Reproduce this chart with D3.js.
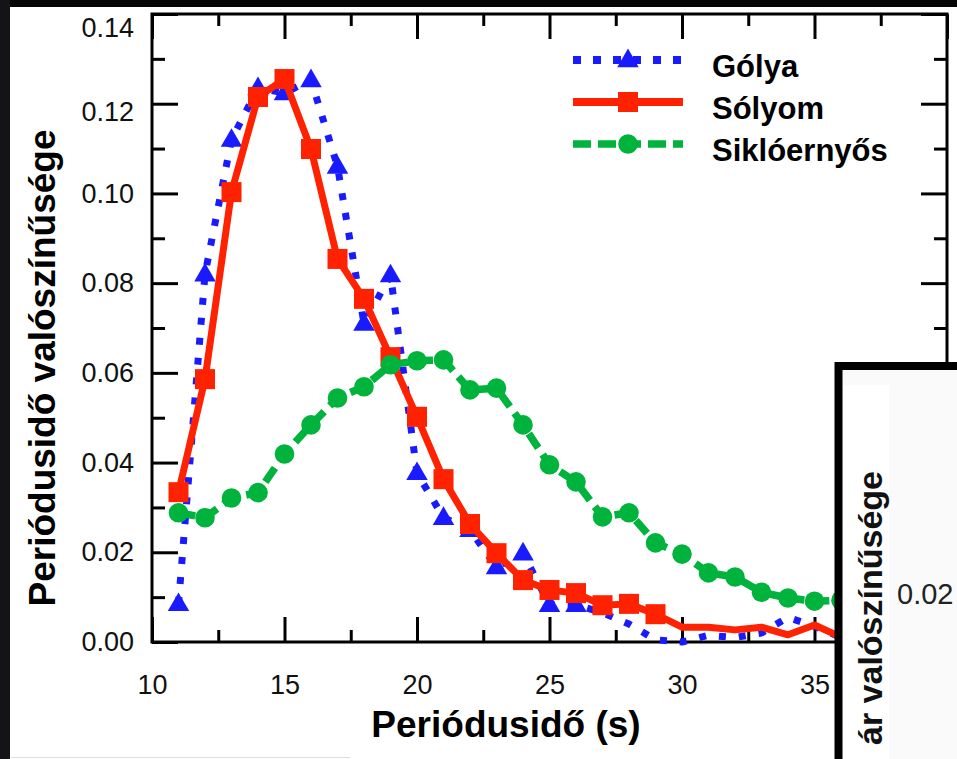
<!DOCTYPE html>
<meta charset="utf-8">
<html>
  <head>
    <title>Periódusidő valószínűsége</title>
    <script src="https://d3js.org/d3.v7.min.js"></script>
    <style>
      body{margin:0;background:#fff;}
      text{font-family:"Liberation Sans",Arial,Helvetica,sans-serif;}
    </style>
  </head>
  <body>
    <div id="chart"></div>
  </body>

  <script>
    var width=957,
        height=759;

    // data
    var periods=[11,12,13,14,15,16,17,18,19,20,21,22,23,24,25,26,27,28,29,30,31,32,33,34,35,36];
    var golya=[0.0085,0.0820,0.1120,0.1235,0.1224,0.1253,0.1060,0.0710,0.0818,0.0377,0.0277,0.0250,0.0167,0.0198,0.0083,0.0083,
               0.0065,0.0040,0.0005,0.0000,0.0015,0.0010,0.0020,0.0055,0.0035,0.0010];
    var solyom=[0.0334,0.0586,0.1003,0.1215,0.1255,0.1099,0.0854,0.0765,0.0635,0.0502,0.0363,0.0263,0.0198,0.0138,0.0116,0.0109,
                0.0082,0.0085,0.0062,0.0033,0.0033,0.0027,0.0033,0.0016,0.0038,0.0011];
    var sikloernyos=[0.0288,0.0277,0.0321,0.0333,0.0419,0.0484,0.0544,0.0569,0.0618,0.0627,0.0629,0.0562,0.0566,0.0484,0.0395,0.0357,
                     0.0279,0.0288,0.0221,0.0196,0.0154,0.0145,0.0111,0.0098,0.0091,0.0093];
    var seriesNames=["Gólya","Sólyom","Siklóernyős"];
    var lastMarked=[26,29,36]; // markers stop after these periods
    var xTicks=[10,15,20,25,30,35,40];
    var xLabelTicks=[10,15,20,25,30,35];
    var yTicks=[0,0.02,0.04,0.06,0.08,0.10,0.12,0.14];

    var colors=["#1a1aff","#ff2200","#00b33c"];

    var svg=d3.select("#chart").append("svg")
      .attr("width",width)
      .attr("height",height);

    svg.append("rect").attr("width",width).attr("height",height).attr("fill","#fff");

    // scales
    var x=d3.scaleLinear().domain([10,40]).range([152,947]);
    var y=d3.scaleLinear().domain([0,0.14]).range([642,14]);
    var xMinor=d3.range(10,40.1,2.5).filter(function(v){return v%5!==0;});
    var yMinor=d3.range(0.01,0.14,0.02);

    // axes with inward ticks
    var axesG=svg.append("g");
    function addAxis(axis,tf){
      var g=axesG.append("g").attr("transform",tf).call(axis);
      g.select(".domain").remove();
      g.selectAll("line").attr("stroke","#000").attr("stroke-width",3);
      g.selectAll("text").attr("fill","#111").style("font-size","27px");
      return g;
    }
    addAxis(d3.axisBottom(x).tickValues(xTicks).tickSize(-25).tickFormat(""),"translate(0,642)");
    addAxis(d3.axisBottom(x).tickValues(xLabelTicks).tickSize(0).tickPadding(33).tickFormat(d3.format("d")),"translate(0,642)");
    addAxis(d3.axisBottom(x).tickValues(xMinor).tickSize(-12).tickFormat(""),"translate(0,642)");
    addAxis(d3.axisTop(x).tickValues(xTicks).tickSize(-25).tickFormat(""),"translate(0,14)");
    addAxis(d3.axisTop(x).tickValues(xMinor).tickSize(-12).tickFormat(""),"translate(0,14)");
    var yAx=addAxis(d3.axisLeft(y).tickValues(yTicks).tickSize(-26).tickPadding(18).tickFormat(d3.format(".2f")),"translate(152,0)");
    // the two top labels sit a little lower in the original
    yAx.selectAll("text").attr("y",function(d){return d>0.13?14:(d>0.11?8:0)});
    addAxis(d3.axisLeft(y).tickValues(yMinor).tickSize(-13).tickFormat(""),"translate(152,0)");
    addAxis(d3.axisRight(y).tickValues(yTicks).tickSize(-26).tickFormat(""),"translate(947,0)");
    addAxis(d3.axisRight(y).tickValues(yMinor).tickSize(-13).tickFormat(""),"translate(947,0)");

    svg.append("rect")
      .attr("x",x(10)).attr("y",y(0.14))
      .attr("width",x(40)-x(10)).attr("height",y(0)-y(0.14))
      .attr("fill","none").attr("stroke","#000").attr("stroke-width",3);

    // axis titles
    svg.append("text")
      .text("Periódusidő (s)")
      .attr("x",506).attr("y",737)
      .attr("text-anchor","middle")
      .style("font-size","37px").style("font-weight","bold");
    svg.append("text")
      .text("Periódusidő valószínűsége")
      .attr("transform","translate(55,368) rotate(-90)")
      .attr("text-anchor","middle")
      .style("font-size","37px").style("font-weight","bold");

    // series
    var allSeries=[golya,solyom,sikloernyos];
    var dashes=["7,13",null,"17,8"];
    var widths=[7,7,7.5];
    var line=d3.line().x(function(d){return x(d[0])}).y(function(d){return y(d[1])});
    var tri=d3.symbol().type(d3.symbolTriangle).size(200);

    function drawMarker(g,i,cx,cy){
      if(i===0){
        g.append("path").attr("d",tri()).attr("transform","translate("+cx+","+(cy+1)+")").attr("fill",colors[0]);
      }else if(i===1){
        g.append("rect").attr("x",cx-10).attr("y",cy-10).attr("width",20).attr("height",20).attr("fill",colors[1]);
      }else{
        g.append("circle").attr("cx",cx).attr("cy",cy).attr("r",9.8).attr("fill",colors[2]);
      }
    }

    allSeries.forEach(function(vals,i){
      var pts=periods.map(function(p,j){return [p,vals[j]]});
      var g=svg.append("g");
      g.append("path").attr("d",line(pts))
        .attr("fill","none").attr("stroke",colors[i])
        .attr("stroke-width",widths[i])
        .attr("stroke-dasharray",dashes[i])
        .attr("stroke-linejoin","round");
      pts.filter(function(d){return d[0]<=lastMarked[i]}).forEach(function(d){
        drawMarker(g,i,x(d[0]),y(d[1]));
      });
    });

    // legend
    var legendY=[60,102,144];
    var legendG=svg.append("g");
    seriesNames.forEach(function(name,i){
      var gy=legendY[i];
      legendG.append("line").attr("x1",573).attr("x2",683).attr("y1",gy).attr("y2",gy)
        .attr("stroke",colors[i]).attr("stroke-width",i===2?7.5:8)
        .attr("stroke-dasharray",i===0?"8,12":(i===2?"18,7":null));
      drawMarker(legendG,i,628,gy);
      legendG.append("text").text(name)
        .attr("x",712).attr("y",gy+17)
        .style("font-size","31px").style("font-weight","bold");
    });

    // overlapping second panel, bottom right
    var inset=svg.append("g");
    inset.append("rect").attr("x",838.5).attr("y",366).attr("width",200).attr("height",500)
      .attr("fill","#fafafa").attr("stroke","#000").attr("stroke-width",8);
    inset.append("rect").attr("x",843).attr("y",385).attr("width",46).attr("height",380).attr("fill","#fff");
    inset.append("text").text("ár valószínűsége")
      .attr("transform","translate(882,471) rotate(-90)")
      .attr("text-anchor","end")
      .style("font-size","34px").style("font-weight","bold").attr("fill","#111");
    inset.append("text").text("0.02")
      .attr("x",897).attr("y",604)
      .style("font-size","29px").attr("fill","#222");

    // dark photo border
    svg.append("rect").attr("x",0).attr("y",0).attr("width",width).attr("height",7).attr("fill","#050505");
    svg.append("rect").attr("x",0).attr("y",0).attr("width",10).attr("height",height).attr("fill","#141418");
    svg.append("line").attr("x1",11).attr("x2",350).attr("y1",757.5).attr("y2",757.5).attr("stroke","#ddd").attr("stroke-width",1);
  </script>
</html>
